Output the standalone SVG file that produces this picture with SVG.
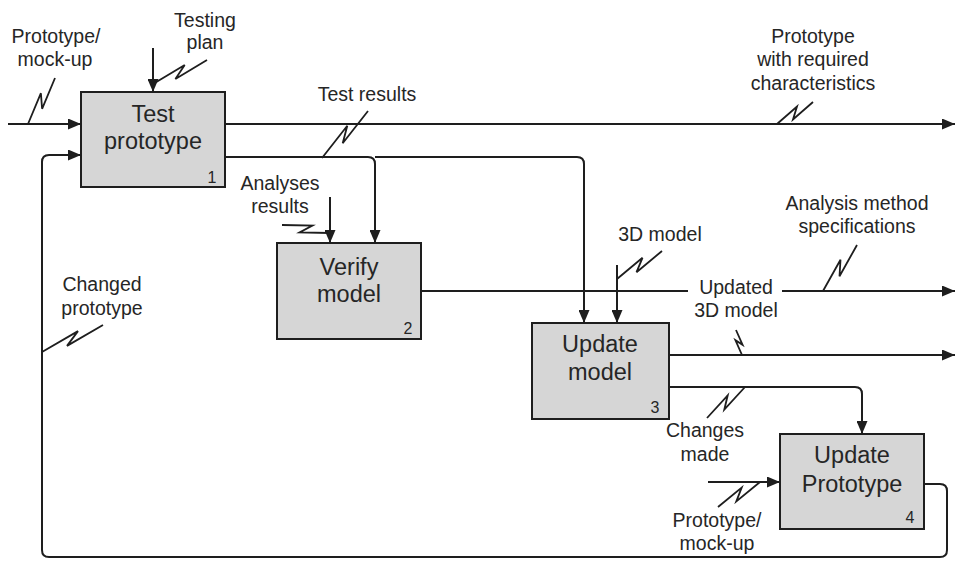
<svg xmlns="http://www.w3.org/2000/svg" width="958" height="561" viewBox="0 0 958 561">
  <style>
    .box { fill: #d6d6d6; stroke: #1e1e1e; stroke-width: 2; }
    .ttl { font-family: "Liberation Sans", Arial, sans-serif; font-size: 23.5px; fill: #262626; text-anchor: middle; }
    .num { font-family: "Liberation Sans", Arial, sans-serif; font-size: 16px; fill: #262626; text-anchor: middle; }
    .lbl { font-family: "Liberation Sans", Arial, sans-serif; font-size: 19.5px; fill: #262626; text-anchor: middle; }
    .ln { fill: none; stroke: #1e1e1e; stroke-width: 2; }
    .arr { marker-end: url(#ah); }
    .sq { fill: none; stroke: #1e1e1e; stroke-width: 1.8; stroke-linejoin: miter; }
  </style>
  <defs>
    <marker id="ah" markerUnits="userSpaceOnUse" markerWidth="13" markerHeight="11" refX="13" refY="5.5" orient="auto">
      <path d="M0,0 L13,5.5 L0,11 z" fill="#1e1e1e"/>
    </marker>
  </defs>
  <rect width="958" height="561" fill="#ffffff"/>

  <!-- activity boxes -->
  <g id="node-test-prototype">
    <rect class="box" x="81" y="92" width="144" height="95"/>
    <text class="ttl" x="153" y="122">Test</text>
    <text class="ttl" x="153" y="149">prototype</text>
    <text class="num" x="212" y="183">1</text>
  </g>
  <g id="node-verify-model">
    <rect class="box" x="277" y="243" width="144" height="96"/>
    <text class="ttl" x="349" y="275">Verify</text>
    <text class="ttl" x="349" y="302">model</text>
    <text class="num" x="408" y="334">2</text>
  </g>
  <g id="node-update-model">
    <rect class="box" x="532" y="323" width="137" height="96"/>
    <text class="ttl" x="600" y="352">Update</text>
    <text class="ttl" x="600" y="380">model</text>
    <text class="num" x="655" y="413">3</text>
  </g>
  <g id="node-update-prototype">
    <rect class="box" x="780" y="434" width="144" height="95"/>
    <text class="ttl" x="852" y="463">Update</text>
    <text class="ttl" x="852" y="492">Prototype</text>
    <text class="num" x="910" y="523">4</text>
  </g>

  <!-- arrows between and around the activities -->
  <g id="connectors">
    <path class="ln arr" d="M8,124 H81"/>
    <path class="ln arr" d="M924,484 H940 Q947,484 947,491 V550 Q947,557 940,557 H49 Q42,557 42,550 V162 Q42,155 49,155 H81"/>
    <path class="ln arr" d="M153,48 V92"/>
    <path class="ln arr" d="M225,124 H955"/>
    <path class="ln arr" d="M225,157 H368 Q375,157 375,164 V243"/>
    <path class="ln arr" d="M375,157 H577 Q584,157 584,164 V323"/>
    <path class="ln arr" d="M330,197 V243"/>
    <path class="ln" d="M421,291 H688"/>
    <path class="ln arr" d="M782,291 H955"/>
    <path class="ln arr" d="M617,265 V323"/>
    <path class="ln arr" d="M669,355 H955"/>
    <path class="ln arr" d="M669,387 H855 Q862,387 862,394 V434"/>
    <path class="ln arr" d="M708,482 H780"/>

    <!-- label squiggles -->
    <path class="sq" d="M28,124 L40.9,93.2 L42.1,108.8 L55,78"/>
    <path class="sq" d="M153,84 L184.7,65 L175.4,79 L207,60"/>
    <path class="sq" d="M322,158 L347.3,125.7 L342.7,143.3 L368,111"/>
    <path class="sq" d="M777,124 L797,106.5 L793,119.5 L813,102"/>
    <path class="sq" d="M282,225 L312.5,225.5 L299.5,232.5 L330,233"/>
    <path class="sq" d="M617,279 L642.5,257.8 L636.5,272.2 L662,251"/>
    <path class="sq" d="M823,291 L840.5,259.8 L839.5,276.2 L857,245"/>
    <path class="sq" d="M742,355 L735.4,340.2 L742.6,344.8 L736,330"/>
    <path class="sq" d="M42,352 L78,331.1 L67,345.9 L103,325"/>
    <path class="sq" d="M707,418 L727.7,395.3 L724.3,409.7 L745,387"/>
    <path class="sq" d="M718,507 L741.7,487.6 L736.3,501.4 L760,482"/>
  </g>

  <!-- connector labels -->
  <g id="labels">
    <text class="lbl" x="56" y="43">Prototype/</text>
    <text class="lbl" x="55" y="66">mock-up</text>
    <text class="lbl" x="205" y="27">Testing</text>
    <text class="lbl" x="205" y="49">plan</text>
    <text class="lbl" x="367" y="101">Test results</text>
    <text class="lbl" x="813" y="43">Prototype</text>
    <text class="lbl" x="813" y="66">with required</text>
    <text class="lbl" x="813" y="90">characteristics</text>
    <text class="lbl" x="280" y="190">Analyses</text>
    <text class="lbl" x="280" y="213">results</text>
    <text class="lbl" x="857" y="210">Analysis method</text>
    <text class="lbl" x="857" y="233">specifications</text>
    <text class="lbl" x="660" y="241">3D model</text>
    <text class="lbl" x="736" y="294">Updated</text>
    <text class="lbl" x="736" y="317">3D model</text>
    <text class="lbl" x="102" y="291">Changed</text>
    <text class="lbl" x="102" y="315">prototype</text>
    <text class="lbl" x="705" y="437">Changes</text>
    <text class="lbl" x="705" y="461">made</text>
    <text class="lbl" x="717" y="527">Prototype/</text>
    <text class="lbl" x="717" y="550">mock-up</text>
  </g>
</svg>
